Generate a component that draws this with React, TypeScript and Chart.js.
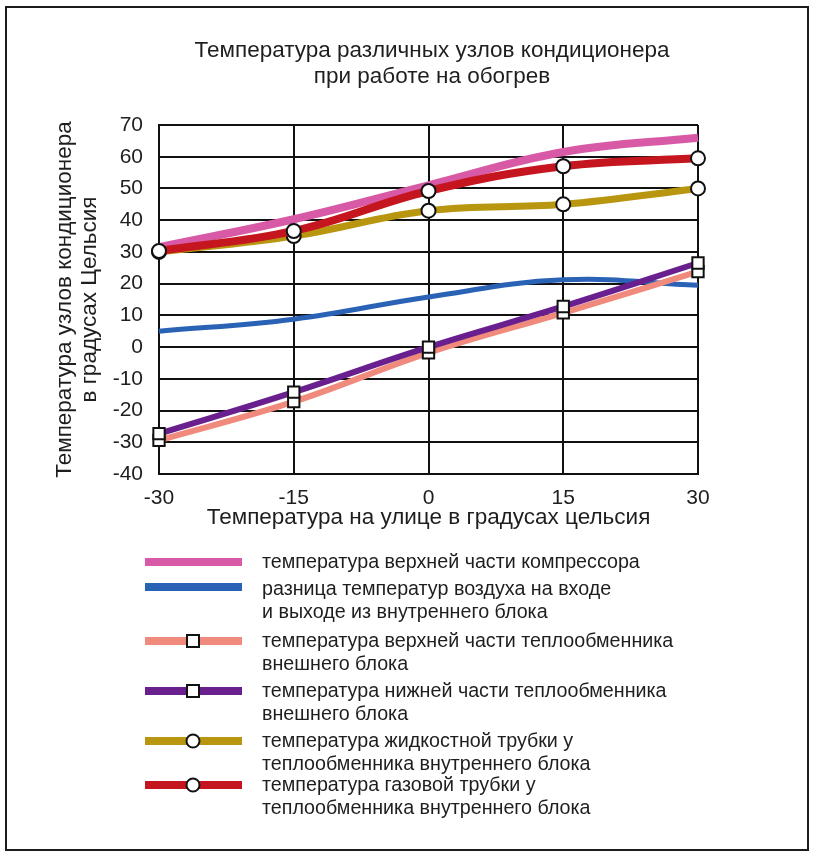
import React, { useEffect, useRef } from 'react';
import { Chart, registerables } from 'chart.js';

Chart.register(...registerables);

// ---- data ----
const outdoorTemps = [-30, -15, 0, 15, 30];
const compressorTop = [31.5, 40.3, 51, 61.5, 66];
const airDelta = [5, 8.8, 15.8, 21.2, 19.5];
const outerHxTop = [-29.4, -17.2, -1.8, 10.8, 23.8];
const outerHxBottom = [-27.3, -14.2, 0, 12.8, 26.5];
const liquidPipe = [30, 35, 43, 45, 50];
const gasPipe = [30.3, 36.6, 49.2, 57, 59.5];

const xTickValues = [-30, -15, 0, 15, 30];
const yTickValues = [-40, -30, -20, -10, 0, 10, 20, 30, 40, 50, 60, 70];

const titleLines = ['Температура различных узлов кондиционера', 'при работе на обогрев'];
const yTitleLines = ['Температура узлов кондиционера', 'в градусах Цельсия'];
const xTitle = 'Температура на улице в градусах цельсия';

const seriesNames = [
  ['температура верхней части компрессора'],
  ['разница температур воздуха на входе', 'и выходе из внутреннего блока'],
  ['температура верхней части теплообменника', 'внешнего блока'],
  ['температура нижней части теплообменника', 'внешнего блока'],
  ['температура жидкостной трубки у', 'теплообменника внутреннего блока'],
  ['температура газовой трубки у', 'теплообменника внутреннего блока'],
];
const seriesColors = ['#d85aa6', '#2a62b6', '#ef8a7c', '#6a1f8f', '#b9960f', '#c5161f'];
const seriesMarkers = ['none', 'none', 'rect', 'rect', 'circle', 'circle'];

const FONT = '"Liberation Sans", Arial, sans-serif';

// legend layout (positions only)
const legendLineY = [562, 587, 641, 691, 741, 785];
const legendTextY = [563, 590, 642, 692, 742, 786];

const decorPlugin = {
  id: 'decor',
  beforeDraw(chart: any) {
    const ctx = chart.ctx;
    ctx.save();
    ctx.fillStyle = '#ffffff';
    ctx.fillRect(0, 0, chart.width, chart.height);
    ctx.restore();
  },
  afterDraw(chart: any) {
    const ctx = chart.ctx;
    ctx.save();
    // frame
    ctx.strokeStyle = '#1c1c1c';
    ctx.lineWidth = 2;
    ctx.strokeRect(6, 7, 802, 843);
    // title
    ctx.fillStyle = '#1e1e1e';
    ctx.font = `22.5px ${FONT}`;
    ctx.textAlign = 'center';
    ctx.textBaseline = 'middle';
    titleLines.forEach((t, i) => ctx.fillText(t, 432, 51 + i * 26));
    // legend
    ctx.textAlign = 'left';
    ctx.font = `19.7px ${FONT}`;
    seriesNames.forEach((lines, i) => {
      const ly = legendLineY[i];
      ctx.strokeStyle = seriesColors[i];
      ctx.lineWidth = 8;
      ctx.lineCap = 'butt';
      ctx.beginPath();
      ctx.moveTo(145, ly);
      ctx.lineTo(242, ly);
      ctx.stroke();
      if (seriesMarkers[i] !== 'none') {
        ctx.fillStyle = '#ffffff';
        ctx.strokeStyle = '#111111';
        ctx.lineWidth = 2;
        ctx.beginPath();
        if (seriesMarkers[i] === 'rect') {
          ctx.rect(187, ly - 6, 12, 12);
        } else {
          ctx.arc(193, ly, 6.5, 0, Math.PI * 2);
        }
        ctx.fill();
        ctx.stroke();
      }
      ctx.fillStyle = '#1e1e1e';
      lines.forEach((t, j) => ctx.fillText(t, 262, legendTextY[i] + j * 22.5));
    });
    ctx.restore();
  },
};

export default function App() {
  const ref = useRef<HTMLCanvasElement | null>(null);

  useEffect(() => {
    if (!ref.current) return;
    const mk = (idx: number, data: number[], width: number, order: number) => {
      const m = seriesMarkers[idx];
      return {
        label: seriesNames[idx].join(' '),
        data: outdoorTemps.map((x, i) => ({ x, y: data[i] })),
        borderColor: seriesColors[idx],
        backgroundColor: seriesColors[idx],
        borderWidth: width,
        tension: 0.4,
        pointStyle: m === 'none' ? 'circle' : m,
        pointRadius: m === 'none' ? 0 : m === 'rect' ? 8 : 7,
        pointBackgroundColor: '#ffffff',
        pointBorderColor: '#111111',
        pointBorderWidth: 2,
        clip: false as any,
        order,
      };
    };
    const chart = new Chart(ref.current, {
      type: 'line',
      data: {
        datasets: [
          mk(5, gasPipe, 8, 1),
          mk(4, liquidPipe, 7, 2),
          mk(0, compressorTop, 8, 3),
          mk(3, outerHxBottom, 6, 4),
          mk(2, outerHxTop, 6, 5),
          mk(1, airDelta, 5, 6),
        ] as any,
      },
      options: {
        responsive: false,
        animation: false,
        layout: { padding: { top: 125, right: 118, bottom: 324, left: 0 } },
        plugins: {
          legend: { display: false },
          tooltip: { enabled: false },
          title: { display: false },
        },
        scales: {
          x: {
            type: 'linear',
            min: -30,
            max: 30,
            afterBuildTicks: (s: any) => {
              s.ticks = xTickValues.map((v) => ({ value: v }));
            },
            afterFit: (s: any) => {
              s.height = 60;
            },
            ticks: { color: '#1e1e1e', font: { family: FONT, size: 21 }, padding: 12 },
            grid: { color: '#111111', lineWidth: 2, drawTicks: false },
            border: { color: '#111111', width: 2 },
            title: {
              display: true,
              text: xTitle,
              color: '#1e1e1e',
              font: { family: FONT, size: 22.5 },
              padding: { top: 0, bottom: 3 },
            },
          },
          y: {
            type: 'linear',
            min: -40,
            max: 70,
            afterBuildTicks: (s: any) => {
              s.ticks = yTickValues.map((v) => ({ value: v }));
            },
            afterFit: (s: any) => {
              s.width = 159;
            },
            ticks: { color: '#1e1e1e', font: { family: FONT, size: 21 }, padding: 16 },
            grid: { color: '#111111', lineWidth: 2, drawTicks: false },
            border: { color: '#111111', width: 2 },
            title: {
              display: true,
              text: yTitleLines,
              color: '#1e1e1e',
              font: { family: FONT, size: 22.5, lineHeight: 1.12 },
              padding: { top: 52, bottom: 0 },
            },
          },
        },
      },
      plugins: [decorPlugin],
    });
    return () => chart.destroy();
  }, []);

  return (
    <div style={{ position: 'absolute', left: 0, top: 0, width: 816, height: 858 }}>
      <canvas ref={ref} width={816} height={858} style={{ display: 'block', width: 816, height: 858 }} />
    </div>
  );
}
